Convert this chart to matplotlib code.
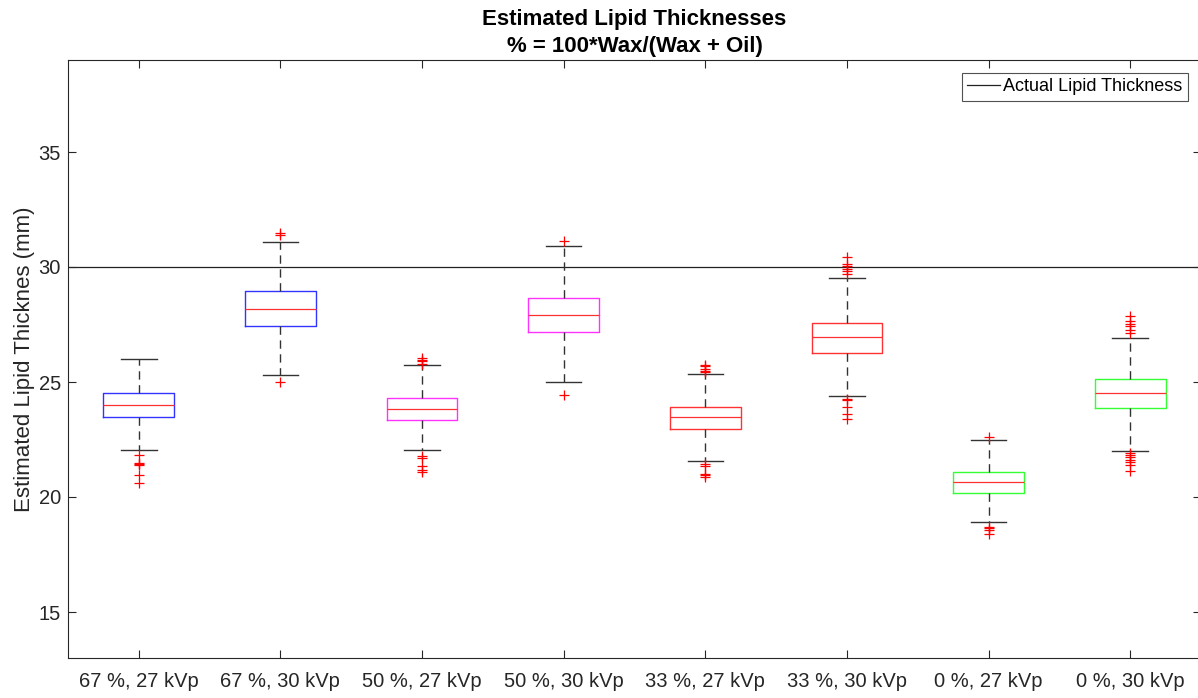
import matplotlib
matplotlib.use("Agg")
import matplotlib.pyplot as plt
from matplotlib.lines import Line2D

plt.rcParams['font.family'] = ['Liberation Sans', 'DejaVu Sans']

labels = ['67 %, 27 kVp', '67 %, 30 kVp', '50 %, 27 kVp', '50 %, 30 kVp',
          '33 %, 27 kVp', '33 %, 30 kVp', '0 %, 27 kVp', '0 %, 30 kVp']
whislo = [22.03, 25.32, 22.06, 25.01, 21.55, 24.38, 18.90, 21.99]
q1 = [23.46, 27.42, 23.33, 27.16, 22.97, 26.25, 20.16, 23.87]
med = [24.00, 28.17, 23.81, 27.90, 23.46, 26.94, 20.64, 24.52]
q3 = [24.52, 28.94, 24.30, 28.65, 23.93, 27.57, 21.10, 25.12]
whishi = [26.00, 31.10, 25.73, 30.90, 25.36, 29.51, 22.49, 26.93]
fliers = [
    [21.84, 21.48, 21.45, 21.40, 20.94, 20.60],
    [31.38, 31.48, 24.98],
    [25.97, 25.90, 25.80, 26.04, 21.78, 21.70, 21.33, 21.19, 21.09],
    [31.14, 24.42],
    [25.75, 25.68, 25.58, 25.49, 25.43, 21.43, 21.35, 21.00, 20.94, 20.88],
    [30.45, 30.13, 30.03, 29.93, 29.84, 29.70, 24.26, 24.23, 23.90, 23.60, 23.39],
    [22.59, 18.71, 18.65, 18.58, 18.40],
    [27.85, 27.64, 27.52, 27.42, 27.27, 27.12, 21.91, 21.84, 21.73, 21.62,
     21.51, 21.40, 21.12],
]
box_colors = ['#0000ff', '#0000ff', '#ff00ff', '#ff00ff',
              '#ff0000', '#ff0000', '#00ff00', '#00ff00']
actual_thickness = 30

fig = plt.figure(figsize=(11.98, 6.98), dpi=100)
ax = fig.add_axes([68/1198, 1 - 658/698, (1201 - 68)/1198, (658 - 60)/698])

stats = []
for i in range(len(labels)):
    stats.append(dict(med=med[i], q1=q1[i], q3=q3[i], whislo=whislo[i],
                      whishi=whishi[i], fliers=fliers[i], label=labels[i]))

positions = list(range(1, len(labels) + 1))
bp = ax.bxp(stats, positions=positions, widths=0.5, capwidths=0.25,
            showfliers=True, patch_artist=False,
            medianprops=dict(color='#ff3030', linewidth=0.9),
            whiskerprops=dict(color='#333333', linestyle=(0, (6, 4)), linewidth=1.0),
            capprops=dict(color='#333333', linewidth=1.0),
            flierprops=dict(marker='+', markeredgecolor='#ff0000', markersize=7,
                            markeredgewidth=0.9, linestyle='none'))
for b, c in zip(bp['boxes'], box_colors):
    b.set_color(c)
    b.set_linewidth(1.0)
    b.set_alpha(0.8)

ax.axhline(actual_thickness, color='#222222', linewidth=0.9, zorder=0)

ax.set_xlim(0.5, 8.5)
ax.set_ylim(13, 39)
ax.set_yticks([15, 20, 25, 30, 35])
ax.set_xticks(positions)
ax.set_xticklabels(labels)
ax.tick_params(direction='in', length=6, width=0.8, colors='#262626',
               labelsize=14.5, top=True, right=True, pad=10)
ax.tick_params(axis='y', pad=5)
for s in ax.spines.values():
    s.set_color('#262626')
    s.set_linewidth(0.8)

ax.set_ylabel('Estimated Lipid Thicknes (mm)', fontsize=16, color='#262626',
              labelpad=2.5)
ax.set_title('Estimated Lipid Thicknesses\n% = 100*Wax/(Wax + Oil)',
             fontsize=16, fontweight='bold', color='#000000', pad=6,
             linespacing=1.35)

handle = Line2D([], [], color='#222222', linewidth=0.9)
leg = ax.legend([handle], ['Actual Lipid Thickness'], loc='upper right',
                bbox_to_anchor=(1188/1198, 1 - 73/698),
                bbox_transform=fig.transFigure, fontsize=13,
                frameon=True, fancybox=False, edgecolor='#262626',
                handlelength=1.8, handletextpad=0.2, borderpad=0.3,
                borderaxespad=0)
leg.get_frame().set_linewidth(0.8)

fig.savefig('out.png', dpi=100)
